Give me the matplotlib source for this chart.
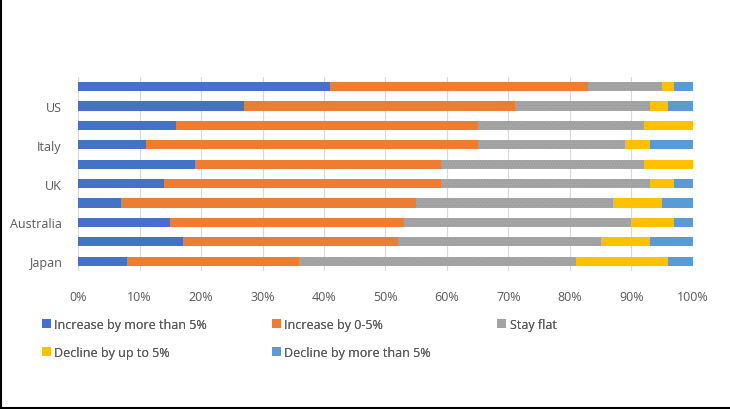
import matplotlib.pyplot as plt
from matplotlib.lines import Line2D
import numpy as np

# Categories bottom -> top (only every other label is shown in the source)
pays = ["Japan", "", "Australia", "", "UK", "", "Italy", "", "US", ""]

series = [
    "Increase by more than 5%",
    "Increase by 0-5%",
    "Stay flat",
    "Decline by up to 5%",
    "Decline by more than 5%",
]

hausse_plus_5 = [8, 17, 15, 7, 14, 19, 11, 16, 27, 41]
hausse_0_5 = [28, 35, 38, 48, 45, 40, 54, 49, 44, 42]
stable = [45, 33, 37, 32, 34, 33, 24, 27, 22, 12]
baisse_jusqu_5 = [15, 8, 7, 8, 4, 8, 4, 8, 3, 2]
baisse_plus_5 = [4, 7, 3, 5, 3, 0, 7, 0, 4, 3]

couleurs = ["#4472C4", "#ED7D31", "#A5A5A5", "#FFC000", "#5B9BD5"]
GRIS_TEXTE = "#595959"

plt.rcParams["font.family"] = ["Open Sans", "DejaVu Sans"]
plt.rcParams["hatch.linewidth"] = 0.4

fig = plt.figure(figsize=(7.3, 4.1), dpi=100)
ax = fig.add_axes([0.107, 0.337, 0.842, 0.473])

valeurs = np.array([hausse_plus_5, hausse_0_5, stable, baisse_jusqu_5, baisse_plus_5], dtype=float)
valeurs = valeurs / valeurs.sum(axis=0) * 100
y = np.arange(len(pays))
gauche = np.zeros(len(pays))
for i, (nom, v) in enumerate(zip(series, valeurs)):
    kw = {}
    if nom == "Stay flat":
        kw = dict(hatch="......", edgecolor="#979797", linewidth=0)
    ax.barh(y, v, left=gauche, height=0.47, color=couleurs[i], label=nom, zorder=3, **kw)
    gauche += v

ax.set_xlim(0, 100)
ax.set_ylim(-0.5, len(pays) - 0.5)
ax.set_xticks(np.arange(0, 101, 10))
ax.set_xticklabels([f"{t}%" for t in range(0, 101, 10)])
ax.set_yticks(y)
ax.set_yticklabels(pays)
ax.tick_params(axis="both", length=0, labelsize=9, colors=GRIS_TEXTE)
ax.tick_params(axis="x", pad=14)
ax.tick_params(axis="y", pad=12)
ax.grid(axis="x", color="#D9D9D9", linewidth=0.8, zorder=0)
for s in ax.spines.values():
    s.set_visible(False)

# Légende en 3 colonnes, remplie ligne par ligne comme dans Excel
poignees, etiquettes = ax.get_legend_handles_labels()
colonnes_x = [42 / 730, 272 / 730, 497 / 730]
for c, x0 in enumerate(colonnes_x):
    idx = list(range(c, len(series), 3))
    leg = fig.legend(
        [poignees[k] for k in idx], [etiquettes[k] for k in idx],
        loc="upper left", bbox_to_anchor=(x0, 0.223),
        frameon=False, fontsize=9, borderpad=0, borderaxespad=0,
        handlelength=0.7, handleheight=0.7, handletextpad=0.3,
        labelspacing=1.2,
    )
    for t in leg.get_texts():
        t.set_color(GRIS_TEXTE)
    fig.add_artist(leg)

# bordure gauche et basse de la capture
fig.add_artist(Line2D([0.001, 0.001], [0, 1], color="black", linewidth=1.5))
fig.add_artist(Line2D([0, 1], [0.003, 0.003], color="black", linewidth=1.5))

fig.savefig("out.png", dpi=100)
